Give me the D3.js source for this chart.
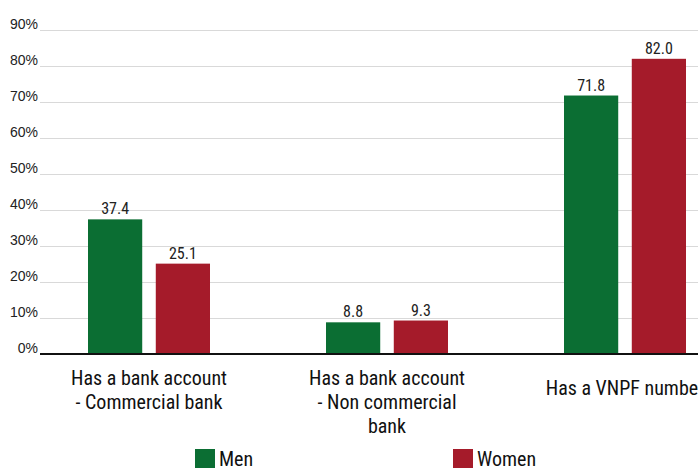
<!DOCTYPE html>
<html>
<head>
<meta charset="utf-8">
<script src="https://cdn.jsdelivr.net/npm/d3@7/dist/d3.min.js"></script>
<style>
  html, body { margin: 0; padding: 0; background: #fff; }
  svg { display: block; font-family: "Liberation Sans Narrow", "Roboto Condensed", "Arial Narrow", sans-serif; }
</style>
</head>
<body>
<svg id="chart" width="698" height="469"></svg>
<script>
// Account ownership by sex (%)
const categories = [
  ["Has a bank account", "- Commercial bank"],
  ["Has a bank account", "- Non commercial", "bank"],
  ["Has a VNPF number"]
];
const seriesNames = ["Men", "Women"];
const men = [37.4, 8.8, 71.8];
const women = [25.1, 9.3, 82.0];
const yTicks = [0, 10, 20, 30, 40, 50, 60, 70, 80, 90];
const colors = ["#0b6e33", "#a51b2a"];

const svg = d3.select("#chart");
const W = 698;
const plotLeft = 40, plotTop = 30, plotBottom = 354;

const x0 = d3.scaleBand().domain(d3.range(categories.length)).range([30, 744]).paddingInner(0).paddingOuter(0);
const x1 = d3.scaleBand().domain(seriesNames).range([x0.bandwidth() / 2 - 61, x0.bandwidth() / 2 + 61]).paddingInner(0.2).paddingOuter(0);
const y = d3.scaleLinear().domain([0, 90]).range([plotBottom, plotTop]);

// gridlines and tick labels
const yAxis = d3.axisLeft(y).tickValues(yTicks).tickSize(-(W - plotLeft)).tickFormat(d => d + "%");
const ga = svg.append("g").attr("transform", `translate(${plotLeft},0)`).call(yAxis);
ga.select(".domain").remove();
ga.selectAll(".tick line").attr("stroke", "#d9d9d9").attr("stroke-width", 1.2);
ga.selectAll(".tick text").attr("x", -2).attr("dy", "-0.12em").attr("font-size", 14).attr("fill", "#222")
  .style("font-family", "inherit");

const data = categories.map((c, i) => ({ i, values: [men[i], women[i]] }));

const groups = svg.append("g").selectAll("g").data(data).join("g")
  .attr("transform", d => `translate(${x0(d.i)},0)`);

groups.selectAll("rect").data(d => d.values.map((v, k) => ({ k, v }))).join("rect")
  .attr("x", d => x1(seriesNames[d.k]))
  .attr("width", x1.bandwidth())
  .attr("y", d => y(d.v))
  .attr("height", d => y(0) - y(d.v))
  .attr("fill", d => colors[d.k]);

groups.selectAll("text.val").data(d => d.values.map((v, k) => ({ k, v }))).join("text")
  .attr("class", "val")
  .attr("x", d => x1(seriesNames[d.k]) + x1.bandwidth() / 2)
  .attr("y", d => y(d.v) - 5)
  .attr("text-anchor", "middle")
  .attr("font-size", 16)
  .attr("fill", "#222")
  .text(d => d.v.toFixed(1));

// baseline
svg.append("line").attr("x1", plotLeft).attr("x2", W).attr("y1", y(0)).attr("y2", y(0))
  .attr("stroke", "#111").attr("stroke-width", 2);

// category labels
groups.each(function (d) {
  const lines = categories[d.i];
  const t = d3.select(this).append("text")
    .attr("text-anchor", "middle")
    .attr("font-size", 20)
    .attr("fill", "#111");
  const y0 = lines.length === 1 ? 395 : 385;
  lines.forEach((ln, j) => {
    t.append("tspan").attr("x", x0.bandwidth() / 2).attr("y", y0 + j * 24).text(ln);
  });
});

// legend
const legendX = [195, 453];
const lg = svg.append("g").selectAll("g").data(seriesNames).join("g")
  .attr("transform", (d, i) => `translate(${legendX[i]},449)`);
lg.append("rect").attr("width", 20).attr("height", 19).attr("fill", (d, i) => colors[i]);
lg.append("text").attr("x", 24).attr("y", 17).attr("font-size", 20).attr("fill", "#111").text(d => d);
</script>
</body>
</html>
